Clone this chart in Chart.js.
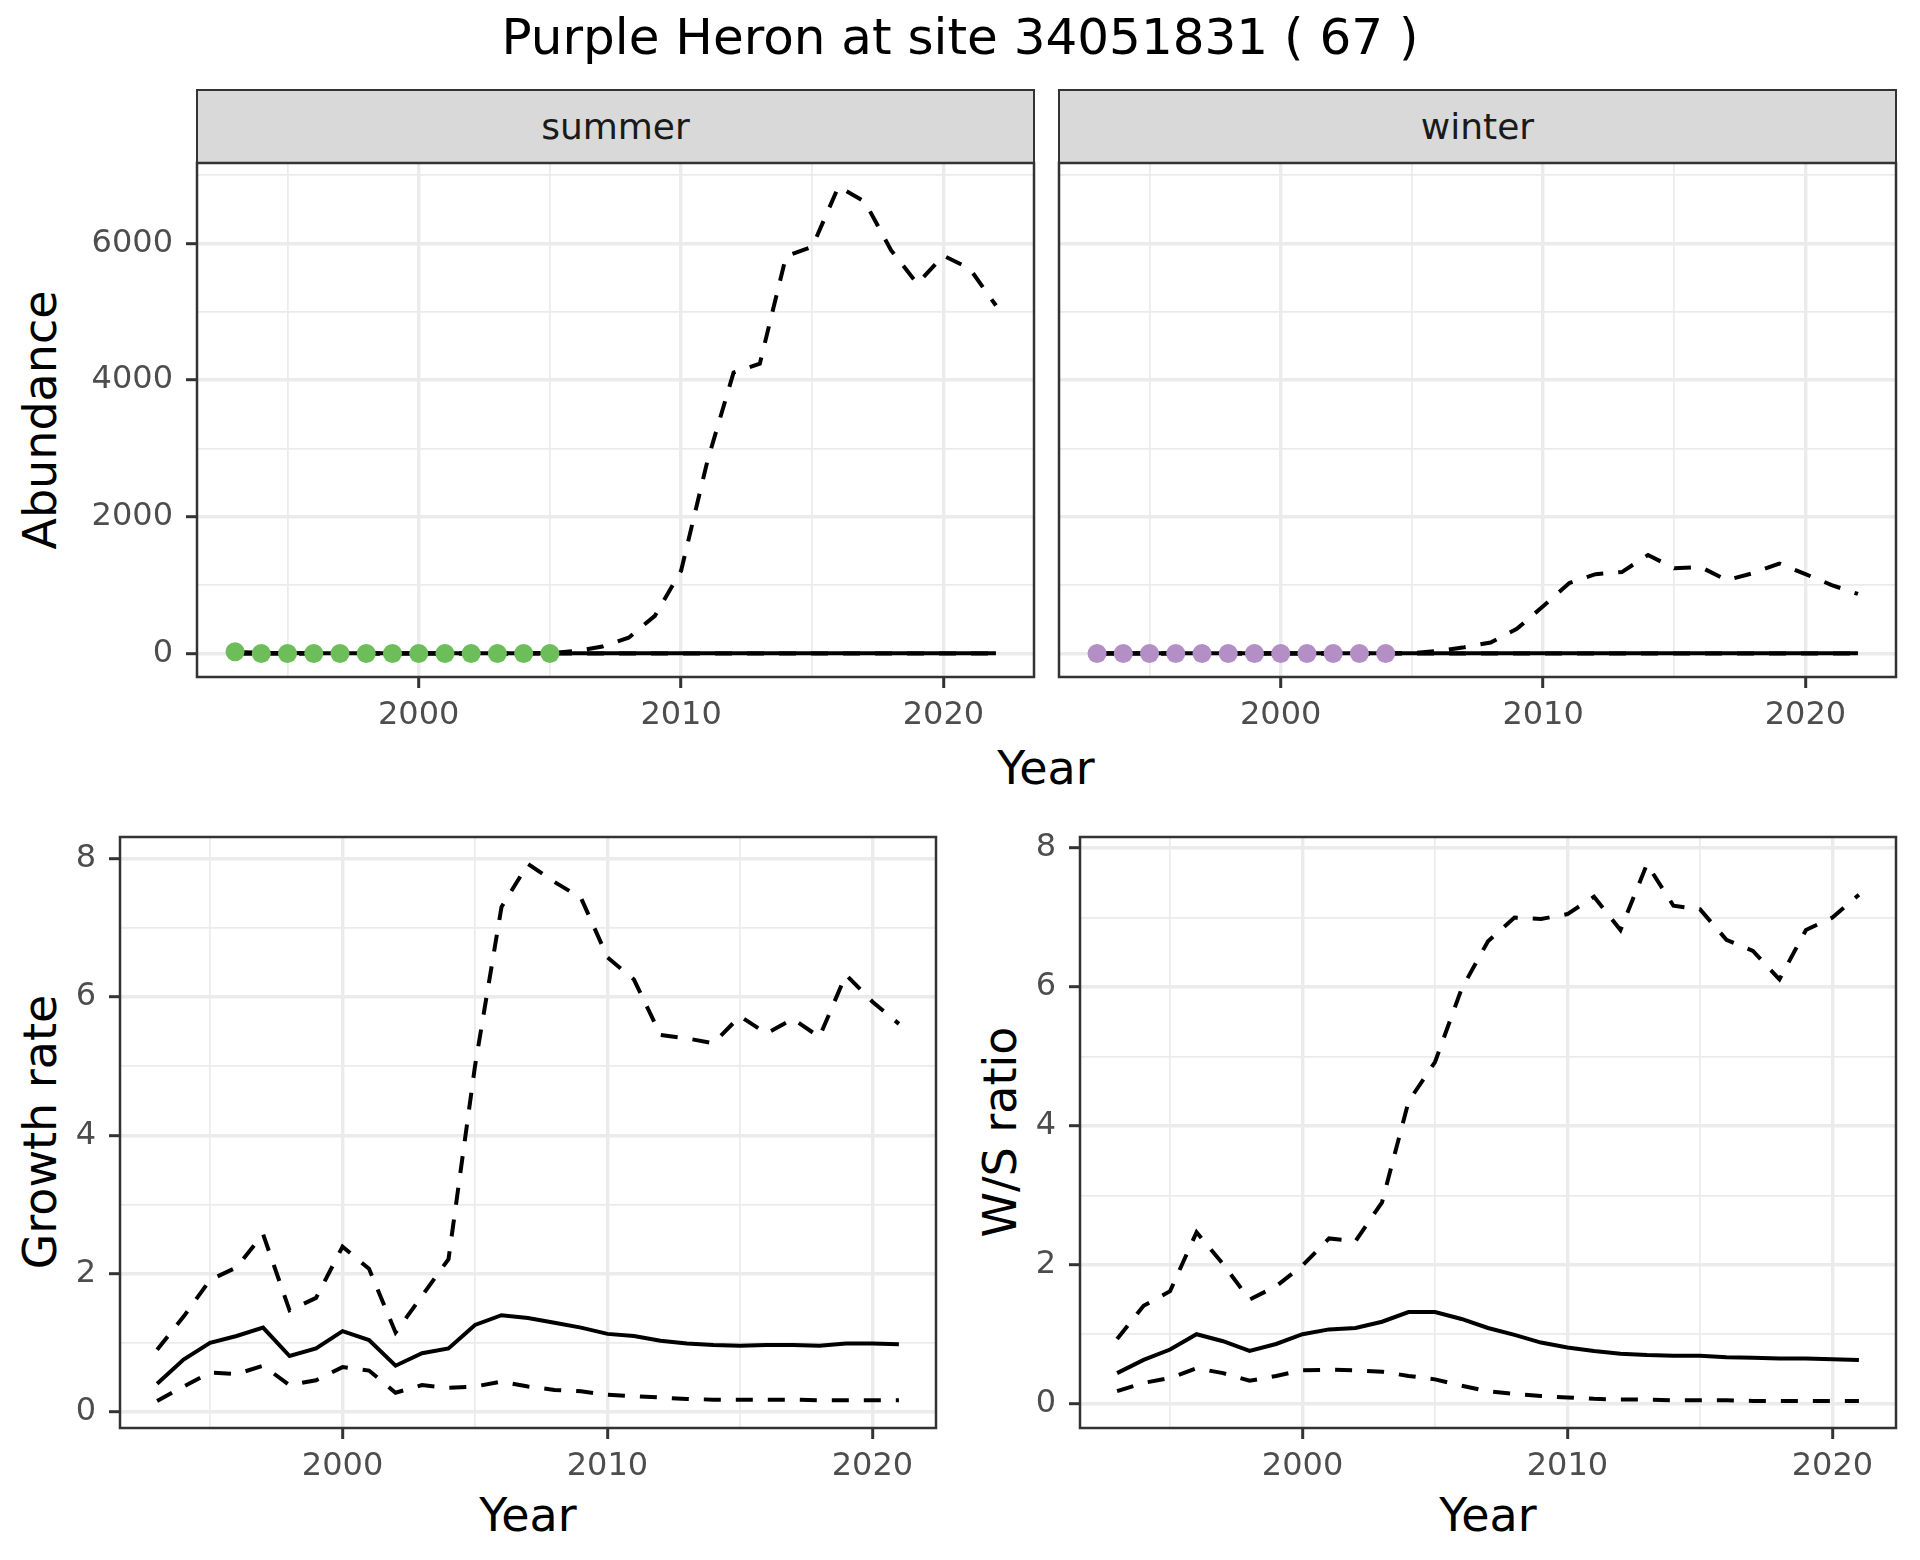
<!DOCTYPE html>
<html>
<head>
<meta charset="utf-8">
<script src="https://cdn.jsdelivr.net/npm/chart.js@4.4.1/dist/chart.umd.min.js"></script>
<style>
  body { margin: 0; width: 1920px; height: 1560px; background: #fff; position: relative; overflow: hidden; font-family: "DejaVu Sans", sans-serif; }
  canvas { position: absolute; }
  .txt { position: absolute; white-space: nowrap; color: #000; line-height: 1; transform: translate(-50%, -50%); }
  .rot { transform: translate(-50%, -50%) rotate(-90deg); }
  .strip { position: absolute; background: #d9d9d9; border: 2px solid #333; box-sizing: border-box; color: #1a1a1a; font-size: 36px; display: flex; align-items: center; justify-content: center; }
</style>
</head>
<body>
<div class="txt" style="left:960px; top:37px; font-size:50px;">Purple Heron at site 34051831 ( 67 )</div>
<div class="strip" style="left:196px; top:89px; width:839px; height:75px;">summer</div>
<div class="strip" style="left:1058px; top:89px; width:839px; height:75px;">winter</div>
<div class="txt rot" style="left:40px; top:420px; font-size:46px;">Abundance</div>
<div class="txt" style="left:1046px; top:768px; font-size:46px;">Year</div>
<div class="txt rot" style="left:40px; top:1132px; font-size:46px;">Growth rate</div>
<div class="txt" style="left:528px; top:1515px; font-size:46px;">Year</div>
<div class="txt rot" style="left:1000px; top:1132px; font-size:46px;">W/S ratio</div>
<div class="txt" style="left:1488px; top:1515px; font-size:46px;">Year</div>

<canvas id="summer"></canvas>
<canvas id="winter"></canvas>
<canvas id="growth"></canvas>
<canvas id="ratio"></canvas>

<script>
// abundance panels, 1993-2022
const abundYears = [1993, 1994, 1995, 1996, 1997, 1998, 1999, 2000, 2001, 2002, 2003, 2004, 2005, 2006, 2007,
  2008, 2009, 2010, 2011, 2012, 2013, 2014, 2015, 2016, 2017, 2018, 2019, 2020, 2021, 2022];
const summerMean = [20, 8, 5, 4, 4, 3, 3, 3, 3, 3, 3, 3, 3, 3, 3, 3, 3, 3, 3, 3, 3, 3, 3, 3, 3, 3, 3, 3, 3, 3];
const summerUpper = [0, 0, 0, 0, 0, 0, 0, 0, 0, 0, 0, 0, 5, 35, 100, 230, 550, 1210, 2810, 4110, 4240, 5810, 5950,
  6830, 6610, 5900, 5410, 5820, 5630, 5090];
const summerLower = [0, 0, 0, 0, 0, 0, 0, 0, 0, 0, 0, 0, 0, 0, 0, 0, 0, 0, 0, 0, 0, 0, 0, 0, 0, 0, 0, 0, 0, 0];
const winterMean = [3, 3, 3, 3, 3, 3, 3, 3, 3, 3, 3, 3, 3, 3, 3, 3, 3, 3, 3, 3, 3, 3, 3, 3, 3, 3, 3, 3, 3, 3];
const winterUpper = [0, 0, 0, 0, 0, 0, 0, 0, 0, 0, 0, 0, 5, 35, 90, 160, 360, 690, 1030, 1160, 1190, 1440, 1245,
  1265, 1070, 1175, 1315, 1160, 1000, 870];
const winterLower = [0, 0, 0, 0, 0, 0, 0, 0, 0, 0, 0, 0, 0, 0, 0, 0, 0, 0, 0, 0, 0, 0, 0, 0, 0, 0, 0, 0, 0, 0];

// observed counts
const summerCountYears = [1993, 1994, 1995, 1996, 1997, 1998, 1999, 2000, 2001, 2002, 2003, 2004, 2005];
const summerCounts = [25, 0, 0, 0, 0, 0, 0, 0, 0, 0, 0, 0, 0];
const winterCountYears = [1993, 1994, 1995, 1996, 1997, 1998, 1999, 2000, 2001, 2002, 2003, 2004];
const winterCounts = [0, 0, 0, 0, 0, 0, 0, 0, 0, 0, 0, 0];

// growth rate and W/S ratio, 1993-2021
const rateYears = [1993, 1994, 1995, 1996, 1997, 1998, 1999, 2000, 2001, 2002, 2003, 2004, 2005, 2006, 2007,
  2008, 2009, 2010, 2011, 2012, 2013, 2014, 2015, 2016, 2017, 2018, 2019, 2020, 2021];
const growthMean = [0.41, 0.76, 1.0, 1.1, 1.22, 0.81, 0.92, 1.17, 1.04, 0.67, 0.85, 0.92, 1.26, 1.4, 1.36,
  1.29, 1.22, 1.13, 1.1, 1.03, 0.99, 0.97, 0.96, 0.97, 0.97, 0.96, 0.99, 0.99, 0.98];
const growthUpper = [0.9, 1.38, 1.91, 2.09, 2.57, 1.47, 1.65, 2.39, 2.07, 1.15, 1.68, 2.21, 5.0, 7.3, 7.92,
  7.66, 7.43, 6.57, 6.25, 5.45, 5.4, 5.33, 5.72, 5.47, 5.68, 5.42, 6.32, 5.93, 5.61];
const growthLower = [0.16, 0.37, 0.57, 0.55, 0.67, 0.39, 0.46, 0.65, 0.6, 0.28, 0.39, 0.35, 0.37, 0.44, 0.37,
  0.32, 0.3, 0.25, 0.23, 0.21, 0.19, 0.18, 0.18, 0.18, 0.18, 0.17, 0.17, 0.17, 0.17];
const ratioMean = [0.44, 0.63, 0.78, 1.0, 0.9, 0.76, 0.86, 1.0, 1.07, 1.09, 1.18, 1.32, 1.32, 1.22, 1.09,
  0.99, 0.88, 0.81, 0.76, 0.72, 0.7, 0.69, 0.69, 0.67, 0.66, 0.65, 0.65, 0.64, 0.63];
const ratioUpper = [0.93, 1.41, 1.62, 2.47, 2.01, 1.5, 1.69, 1.99, 2.38, 2.34, 2.9, 4.35, 4.92, 5.97, 6.66,
  7.0, 6.98, 7.05, 7.3, 6.82, 7.77, 7.17, 7.12, 6.68, 6.52, 6.11, 6.82, 7.0, 7.33];
const ratioLower = [0.18, 0.3, 0.37, 0.51, 0.44, 0.33, 0.4, 0.48, 0.49, 0.48, 0.46, 0.4, 0.35, 0.26, 0.18,
  0.14, 0.11, 0.09, 0.07, 0.06, 0.06, 0.05, 0.05, 0.05, 0.04, 0.04, 0.04, 0.04, 0.04];

// tick values (major labelled, minor only as grid)
const yearTicks = [1995, 2000, 2005, 2010, 2015, 2020];
const yearMajor = [2000, 2010, 2020];
const abundTicks = [0, 1000, 2000, 3000, 4000, 5000, 6000, 7000];
const abundMajor = [0, 2000, 4000, 6000];
const rateTicks = [0, 1, 2, 3, 4, 5, 6, 7, 8];
const rateMajor = [0, 2, 4, 6, 8];

const FONT = "DejaVu Sans";
const PAD_L = 120, PAD_T = 40, PAD_R = 20, PAD_B = 80;

const xy = (xs, ys) => xs.map((x, i) => ({ x: x, y: ys[i] }));

function scaleOpts(min, max, tickVals, majors, showTicks, isX) {
  return {
    type: "linear",
    min: min,
    max: max,
    afterBuildTicks: s => { s.ticks = tickVals.map(v => ({ value: v })); },
    afterFit: s => { if (isX) s.height = PAD_B; else s.width = PAD_L; },
    border: { display: false },
    grid: {
      color: "#ebebeb",
      lineWidth: c => (majors.includes(c.tick.value) ? 3.4 : 1.7),
      drawTicks: showTicks,
      tickLength: 11,
      tickWidth: 3,
      tickColor: c => (majors.includes(c.tick.value) ? "#333333" : "rgba(0,0,0,0)")
    },
    ticks: {
      display: showTicks,
      autoSkip: false,
      maxRotation: 0,
      padding: isX ? 8 : 13,
      color: "#4d4d4d",
      font: { family: FONT, size: 32 },
      callback: v => (majors.includes(v) ? String(v) : "")
    }
  };
}

const panelBorder = {
  id: "panelBorder",
  afterDraw(chart) {
    const { ctx, chartArea: a } = chart;
    ctx.save();
    ctx.strokeStyle = "#333333";
    ctx.lineWidth = 2.5;
    ctx.strokeRect(a.left, a.top, a.right - a.left, a.bottom - a.top);
    ctx.restore();
  }
};

function lineSet(xs, ys, dashed) {
  return {
    type: "line",
    data: xy(xs, ys),
    borderColor: "#000",
    borderWidth: 4,
    borderDash: dashed ? [17, 15] : [],
    pointRadius: 0,
    tension: 0,
    fill: false,
    order: 1
  };
}

function pointSet(xs, ys, color) {
  return {
    type: "line",
    data: xy(xs, ys),
    showLine: false,
    pointRadius: 9.5,
    pointBackgroundColor: color,
    pointBorderWidth: 0,
    order: 0
  };
}

function makePanel(id, area, datasets, x, y) {
  const cv = document.getElementById(id);
  const w = area.right - area.left + PAD_L + PAD_R;
  const h = area.bottom - area.top + PAD_T + PAD_B;
  cv.width = w;
  cv.height = h;
  cv.style.left = (area.left - PAD_L) + "px";
  cv.style.top = (area.top - PAD_T) + "px";
  cv.style.width = w + "px";
  cv.style.height = h + "px";
  new Chart(cv.getContext("2d"), {
    type: "line",
    data: { datasets: datasets },
    options: {
      responsive: false,
      animation: false,
      devicePixelRatio: 1,
      layout: { padding: { left: 0, top: PAD_T, right: PAD_R, bottom: 0 } },
      plugins: { legend: { display: false }, tooltip: { enabled: false } },
      scales: { x: x, y: y }
    },
    plugins: [panelBorder]
  });
}

makePanel("summer", { left: 197, right: 1034, top: 163, bottom: 677 }, [
  pointSet(summerCountYears, summerCounts, "#6dbe5a"),
  lineSet(abundYears, summerMean, false),
  lineSet(abundYears, summerUpper, true),
  lineSet(abundYears, summerLower, true)
], scaleOpts(1991.55, 2023.45, yearTicks, yearMajor, true, true),
   scaleOpts(-345, 7175, abundTicks, abundMajor, true, false));

makePanel("winter", { left: 1059, right: 1896, top: 163, bottom: 677 }, [
  pointSet(winterCountYears, winterCounts, "#b48fc6"),
  lineSet(abundYears, winterMean, false),
  lineSet(abundYears, winterUpper, true),
  lineSet(abundYears, winterLower, true)
], scaleOpts(1991.55, 2023.45, yearTicks, yearMajor, true, true),
   scaleOpts(-345, 7175, abundTicks, abundMajor, false, false));

makePanel("growth", { left: 120, right: 936, top: 837, bottom: 1428 }, [
  lineSet(rateYears, growthMean, false),
  lineSet(rateYears, growthUpper, true),
  lineSet(rateYears, growthLower, true)
], scaleOpts(1991.6, 2022.4, yearTicks, yearMajor, true, true),
   scaleOpts(-0.23, 8.31, rateTicks, rateMajor, true, false));

makePanel("ratio", { left: 1080, right: 1896, top: 837, bottom: 1428 }, [
  lineSet(rateYears, ratioMean, false),
  lineSet(rateYears, ratioUpper, true),
  lineSet(rateYears, ratioLower, true)
], scaleOpts(1991.6, 2022.4, yearTicks, yearMajor, true, true),
   scaleOpts(-0.35, 8.16, rateTicks, rateMajor, true, false));
</script>
</body>
</html>
